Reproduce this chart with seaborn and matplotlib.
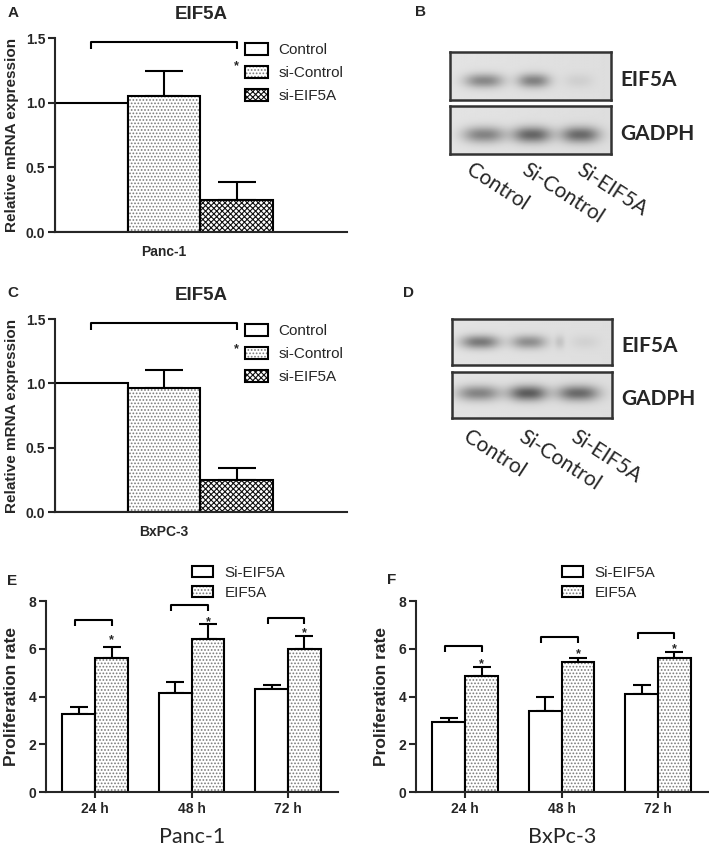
import numpy as np
import pandas as pd
import matplotlib
matplotlib.use('Agg')
import matplotlib.pyplot as plt
import seaborn as sns
from matplotlib.patches import Patch, Rectangle
from matplotlib.legend_handler import HandlerTuple

sns.set_theme(style='ticks')
plt.rcParams['font.family'] = ['Liberation Sans', 'DejaVu Sans']
plt.rcParams['hatch.linewidth'] = 0.8
plt.rcParams['axes.linewidth'] = 1.5

# ---------------- data ----------------
qpcr_groups = ['Control', 'si-Control', 'si-EIF5A']
panc1_mrna = [1.00, 1.05, 0.25]
panc1_mrna_err = [0.0, 0.195, 0.135]
bxpc3_mrna = [1.00, 0.96, 0.25]
bxpc3_mrna_err = [0.0, 0.145, 0.09]
mrna_bracket = [1.47, 1.47]
mrna_star = [1.32, 1.31]

timepoints = ['24 h', '48 h', '72 h']
prolif_groups = ['Si-EIF5A', 'EIF5A']
panc1_si = [3.26, 4.13, 4.31]
panc1_si_err = [0.29, 0.46, 0.16]
panc1_eif = [5.60, 6.41, 5.99]
panc1_eif_err = [0.49, 0.64, 0.55]
bxpc3_si = [2.93, 3.39, 4.11]
bxpc3_si_err = [0.19, 0.58, 0.39]
bxpc3_eif = [4.84, 5.46, 5.63]
bxpc3_eif_err = [0.39, 0.16, 0.25]
panc1_bracket = [7.20, 7.83, 7.27]
panc1_star = [6.58, 7.35, 6.86]
bxpc3_bracket = [6.12, 6.48, 6.65]
bxpc3_star = [5.56, 5.98, 6.19]

blot_lanes = ['Control', 'Si-Control', 'Si-EIF5A']
blotB_eif5a = [0.35, 0.37, 0.06]
blotB_gapdh = [0.37, 0.48, 0.46]
blotD_eif5a = [0.41, 0.32, 0.05]
blotD_gapdh = [0.37, 0.52, 0.46]

W, H = 709, 846
fig = plt.figure(figsize=(W / 100, H / 100), dpi=100)


def ax_px(l, t, r, b):
    return fig.add_axes([l / W, 1 - b / H, (r - l) / W, (b - t) / H])


DOT = ('.....', '#7a7a7a')
CHECK = ('xxxxxx', '#111111')
LW = 1.5


def style_bar(ax, p, hatch):
    if hatch is None:
        return
    h, c = hatch
    p.set_hatch(h)
    p.set_edgecolor(c)
    p.set_linewidth(0)
    ax.add_patch(Rectangle(p.get_xy(), p.get_width(), p.get_height(), fill=False,
                           ec='black', lw=LW, zorder=p.get_zorder() + 0.1))


def legend_handle(hatch):
    if hatch is None:
        return Patch(facecolor='white', edgecolor='black', lw=LW)
    h, c = hatch
    return (Patch(facecolor='white', edgecolor=c, hatch=h, lw=0),
            Patch(fill=False, edgecolor='black', lw=LW))


def add_err(ax, p, e, cap):
    if e <= 0:
        return
    cx = p.get_x() + p.get_width() / 2
    top = p.get_height()
    ax.errorbar([cx], [top], yerr=[[0], [e]], fmt='none', ecolor='black',
                elinewidth=LW, capsize=cap, capthick=LW, zorder=0.5)


def bracket(ax, x1, x2, y, d, star_y, star_size):
    ax.plot([x1, x1, x2, x2], [y - d, y, y, y - d], color='black', lw=LW,
            solid_capstyle='butt', clip_on=False)
    ax.annotate('*', (x2, star_y), xytext=(0, -6), textcoords='offset points',
                ha='center', va='baseline', fontsize=star_size, fontweight='bold')


def style_axes(ax):
    sns.despine(ax=ax)
    ax.spines['left'].set_linewidth(LW)
    ax.spines['bottom'].set_linewidth(LW)
    ax.tick_params(axis='y', length=5, width=LW, pad=2, labelsize=10)
    for t in ax.get_yticklabels():
        t.set_fontweight('bold')


def mrna_panel(ax, cell, vals, errs, br_y, st_y):
    df = pd.DataFrame({'cell': [cell] * len(qpcr_groups), 'group': qpcr_groups, 'value': vals})
    sns.barplot(data=df, x='cell', y='value', hue='group', hue_order=qpcr_groups,
                palette={g: 'white' for g in qpcr_groups}, edgecolor='black',
                linewidth=LW, errorbar=None, width=0.8, saturation=1,
                legend=False, ax=ax)
    bars = sorted(ax.patches, key=lambda p: p.get_x())
    hatches = [None, DOT, CHECK]
    for p, h, e in zip(bars, hatches, errs):
        style_bar(ax, p, h)
        add_err(ax, p, e, 13.5)
    centers = [p.get_x() + p.get_width() / 2 for p in bars]
    ax.set_xlim(-0.4, 0.6716)
    ax.set_ylim(0, 1.5)
    ax.set_yticks([0, 0.5, 1.0, 1.5])
    ax.set_yticklabels(['0.0', '0.5', '1.0', '1.5'])
    style_axes(ax)
    ax.tick_params(axis='x', length=0, pad=9, labelsize=10)
    for t in ax.get_xticklabels():
        t.set_fontweight('bold')
    ax.set_xlabel('')
    ax.set_ylabel('Relative mRNA expression', fontsize=11, fontweight='bold', labelpad=5)
    ax.set_title('EIF5A', fontsize=13.5, fontweight='bold', pad=14)
    bracket(ax, centers[0], centers[2], br_y, 0.055, st_y, 9)
    ax.legend([legend_handle(h) for h in hatches], qpcr_groups,
              handler_map={tuple: HandlerTuple(ndivide=1)},
              loc='upper left', bbox_to_anchor=(0.652, 0.975), frameon=False,
              fontsize=11, handlelength=1.45, handleheight=0.8, handletextpad=0.7,
              labelspacing=0.58, borderpad=0, borderaxespad=0)


def prolif_panel(ax, si, si_err, eif, eif_err, br_y, st_y, xlab):
    df = pd.DataFrame({
        'time': timepoints * 2,
        'group': [prolif_groups[0]] * 3 + [prolif_groups[1]] * 3,
        'value': si + eif,
    })
    sns.barplot(data=df, x='time', y='value', hue='group', hue_order=prolif_groups,
                palette={g: 'white' for g in prolif_groups}, edgecolor='black',
                linewidth=LW, errorbar=None, width=0.68, saturation=1,
                legend=False, ax=ax)
    bars = sorted(ax.patches, key=lambda p: p.get_x())
    errs = [v for pair in zip(si_err, eif_err) for v in pair]
    for i, (p, e) in enumerate(zip(bars, errs)):
        style_bar(ax, p, None if i % 2 == 0 else DOT)
        add_err(ax, p, e, 6.5)
    ax.set_xlim(-0.51, 2.52)
    ax.set_ylim(0, 8)
    ax.set_yticks([0, 2, 4, 6, 8])
    style_axes(ax)
    ax.tick_params(axis='x', length=4, width=LW, pad=3, labelsize=10)
    for t in ax.get_xticklabels():
        t.set_fontweight('bold')
    ax.set_ylabel('Proliferation rate', fontsize=12.5, fontweight='bold', labelpad=7)
    ax.set_xlabel(xlab, fontsize=15.5, family=['Lato', 'DejaVu Sans'], labelpad=8)
    for k in range(3):
        a, b = bars[2 * k], bars[2 * k + 1]
        x1 = a.get_x() + a.get_width() / 2 - 0.04
        x2 = b.get_x() + b.get_width() / 2
        bracket(ax, x1, x2, br_y[k], 0.25, st_y[k], 9)
    ax.legend([legend_handle(None), legend_handle(DOT)], prolif_groups,
              handler_map={tuple: HandlerTuple(ndivide=1)},
              loc='upper left', bbox_to_anchor=(0.50, 1.185), frameon=False,
              fontsize=11, handlelength=1.4, handleheight=0.7, handletextpad=0.75,
              labelspacing=0.42, borderpad=0, borderaxespad=0)


def blot_strip(ax, lanes, widths, inten, yc, sy):
    ny, nx = 80, 240
    x = np.linspace(0, 1, nx)
    y = np.linspace(0, 1, ny)
    X, Y = np.meshgrid(x, y)
    img = 0.89 - 0.02 * X
    for cx, w, a in zip(lanes, widths, inten):
        img = img - a * np.exp(-np.abs((X - cx) / w) ** 2.5) * np.exp(-((Y - yc) / sy) ** 2)
    ax.imshow(img, cmap='gray', vmin=0, vmax=1, extent=(0, 1, 0, 1), origin='lower',
              aspect='auto', interpolation='bilinear')
    ax.set_xticks([])
    ax.set_yticks([])
    for s in ax.spines.values():
        s.set_linewidth(1.8)
        s.set_color('#333333')


def blot_panel(top_box, bot_box, lanes_top, w_top, eif, yc_top, lanes_bot, w_bot, gap,
               yc_bot, label_x, label_dy, extra=None):
    a1 = ax_px(*top_box)
    a2 = ax_px(*bot_box)
    lt = list(lanes_top)
    wt = list(w_top)
    it = list(eif)
    if extra is not None:
        lt.append(extra[0]); wt.append(extra[1]); it.append(extra[2])
    blot_strip(a1, lt, wt, it, yc_top, 0.15)
    blot_strip(a2, lanes_bot, w_bot, gap, yc_bot, 0.17)
    lab_font = ['Lato', 'DejaVu Sans']
    a1.text(1.06, 0.42, 'EIF5A', transform=a1.transAxes, ha='left', va='center',
            fontsize=15, fontweight='bold', family=lab_font)
    a2.text(1.06, 0.42, 'GADPH', transform=a2.transAxes, ha='left', va='center',
            fontsize=15, fontweight='bold', family=lab_font)
    for lx, name in zip(label_x, blot_lanes):
        a2.text(lx, label_dy, name, transform=a2.transAxes, ha='left', va='top',
                rotation=-33, rotation_mode='anchor', fontsize=15, family=lab_font)


# ---------------- panels A & C ----------------
axA = ax_px(55, 38, 347, 232)
mrna_panel(axA, 'Panc-1', panc1_mrna, panc1_mrna_err, mrna_bracket[0], mrna_star[0])
axC = ax_px(55, 319, 347, 512)
mrna_panel(axC, 'BxPC-3', bxpc3_mrna, bxpc3_mrna_err, mrna_bracket[1], mrna_star[1])

# ---------------- panels B & D (western blots) ----------------
blot_panel((450, 52, 611, 100), (450, 106, 611, 154),
           [0.21, 0.52, 0.80], [0.12, 0.10, 0.09], blotB_eif5a, 0.40,
           [0.21, 0.51, 0.81], [0.13, 0.12, 0.12], blotB_gapdh, 0.40,
           [0.15, 0.49, 0.83], -0.12)
blot_panel((452, 319, 612, 365), (452, 372, 612, 418),
           [0.175, 0.48, 0.83], [0.12, 0.11, 0.09], blotD_eif5a, 0.50,
           [0.165, 0.475, 0.79], [0.135, 0.12, 0.13], blotD_gapdh, 0.54,
           [0.12, 0.465, 0.79], -0.18, extra=(0.675, 0.03, 0.10))

# ---------------- panels E & F ----------------
axE = ax_px(46, 601, 338, 792)
prolif_panel(axE, panc1_si, panc1_si_err, panc1_eif, panc1_eif_err,
             panc1_bracket, panc1_star, 'Panc-1')
axF = ax_px(416, 601, 708, 792)
prolif_panel(axF, bxpc3_si, bxpc3_si_err, bxpc3_eif, bxpc3_eif_err,
             bxpc3_bracket, bxpc3_star, 'BxPc-3')

# ---------------- panel letters ----------------
for letter, (x, y) in {'A': (8, 6), 'B': (415, 5), 'C': (7, 286), 'D': (403, 286),
                       'E': (7, 574), 'F': (387, 573)}.items():
    fig.text(x / W, 1 - y / H, letter, ha='left', va='top', fontsize=11, fontweight='bold')

fig.savefig('out.png', dpi=100)
